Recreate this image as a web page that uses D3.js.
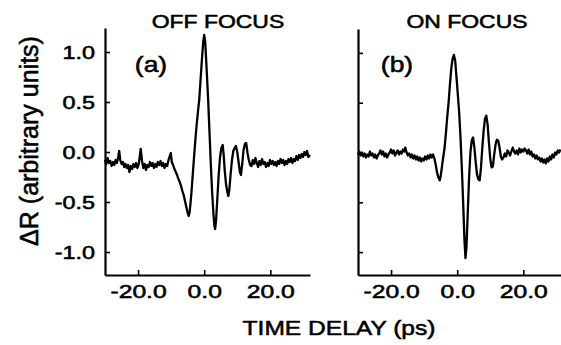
<!DOCTYPE html>
<html>
<head>
<meta charset="utf-8">
<script src="https://cdn.jsdelivr.net/npm/d3@7"></script>
<style>
  html, body { margin: 0; padding: 0; background: #fff; }
  svg { display: block; }
  text { font-family: "Liberation Sans", Arial, Helvetica, sans-serif; fill: #000; stroke: #000; stroke-width: 0.55px; }
</style>
</head>
<body>
<svg id="chart" width="561" height="345"></svg>
<script>
// time delay (ps), delta R (arbitrary units)
const offFocus = [
  [-30.0, -0.08], [-29.6, -0.12], [-29.2, -0.06], [-28.8, -0.11], [-28.4, -0.09],
  [-28.0, -0.14], [-27.6, -0.10], [-27.2, -0.13], [-26.8, -0.08], [-26.4, -0.11],
  [-26.0, -0.05], [-25.7, 0.01], [-25.4, -0.08], [-25.0, -0.12], [-24.6, -0.10],
  [-24.2, -0.15], [-23.8, -0.12], [-23.4, -0.16], [-23.0, -0.13], [-22.6, -0.20],
  [-22.2, -0.14], [-21.8, -0.17], [-21.4, -0.12], [-21.0, -0.15], [-20.6, -0.11],
  [-20.2, -0.16], [-19.8, -0.12], [-19.5, -0.05], [-19.2, 0.03], [-18.8, -0.09],
  [-18.4, -0.16], [-18.0, -0.12], [-17.6, -0.18], [-17.2, -0.13], [-16.8, -0.15],
  [-16.4, -0.10], [-16.0, -0.14], [-15.6, -0.11], [-15.2, -0.16], [-14.8, -0.12],
  [-14.4, -0.15], [-14.0, -0.10], [-13.6, -0.13], [-13.2, -0.09], [-12.8, -0.14],
  [-12.4, -0.11], [-12.0, -0.16], [-11.6, -0.12], [-11.2, -0.14], [-10.8, -0.08],
  [-10.4, -0.04], [-10.1, -0.01], [-9.8, -0.10], [-9.4, -0.13], [-9.0, -0.17],
  [-8.6, -0.20], [-8.2, -0.23], [-7.8, -0.27], [-7.4, -0.30], [-7.0, -0.34],
  [-6.6, -0.39], [-6.2, -0.43], [-5.8, -0.49], [-5.4, -0.55], [-5.0, -0.61],
  [-4.7, -0.64], [-4.4, -0.60], [-4.1, -0.50], [-3.8, -0.38], [-3.4, -0.20],
  [-3.0, -0.02], [-2.6, 0.15], [-2.2, 0.30], [-1.8, 0.43], [-1.5, 0.52],
  [-1.1, 0.72], [-0.7, 0.92], [-0.3, 1.10], [0.0, 1.17], [0.3, 1.10],
  [0.6, 0.92], [0.9, 0.72], [1.2, 0.52], [1.6, 0.20], [2.0, -0.12],
  [2.4, -0.40], [2.8, -0.62], [3.1, -0.74], [3.3, -0.77], [3.6, -0.68],
  [4.0, -0.45], [4.4, -0.22], [4.8, -0.05], [5.2, 0.04], [5.6, 0.07],
  [5.9, -0.03], [6.2, -0.18], [6.6, -0.32], [7.0, -0.40], [7.3, -0.44],
  [7.6, -0.38], [8.0, -0.22], [8.4, -0.08], [8.8, 0.01], [9.2, 0.04],
  [9.6, 0.06], [10.0, 0.00], [10.4, -0.10], [10.8, -0.20], [11.1, -0.23],
  [11.5, -0.12], [11.9, 0.02], [12.3, 0.08], [12.7, 0.09], [13.1, -0.01],
  [13.5, -0.08], [13.9, -0.13], [14.3, -0.14], [14.7, -0.08], [15.1, -0.12],
  [15.5, -0.06], [15.9, -0.11], [16.3, -0.15], [16.7, -0.09], [17.1, -0.13],
  [17.5, -0.07], [17.9, -0.12], [18.3, -0.10], [18.7, -0.15], [19.1, -0.11],
  [19.5, -0.14], [19.9, -0.08], [20.3, -0.12], [20.7, -0.09], [21.1, -0.13],
  [21.5, -0.10], [21.9, -0.14], [22.3, -0.09], [22.7, -0.12], [23.1, -0.07],
  [23.5, -0.11], [23.9, -0.08], [24.3, -0.13], [24.7, -0.09], [25.1, -0.12],
  [25.5, -0.07], [25.9, -0.10], [26.3, -0.06], [26.7, -0.11], [27.1, -0.07],
  [27.5, -0.09], [27.9, -0.04], [28.3, -0.08], [28.7, -0.03], [29.1, -0.06],
  [29.5, -0.02], [29.9, -0.05], [30.3, 0.00], [30.7, -0.03], [31.1, 0.01],
  [31.5, -0.05], [32.0, -0.03]
];

const onFocus = [
  [-30.0, -0.02], [-29.6, 0.01], [-29.2, -0.03], [-28.8, 0.00], [-28.4, -0.04],
  [-28.0, -0.01], [-27.6, -0.05], [-27.2, -0.02], [-26.8, -0.04], [-26.4, 0.01],
  [-26.0, -0.03], [-25.6, -0.01], [-25.2, -0.05], [-24.8, -0.02], [-24.4, -0.06],
  [-24.0, -0.03], [-23.6, -0.01], [-23.2, 0.02], [-22.8, -0.02], [-22.4, 0.01],
  [-22.0, -0.04], [-21.6, -0.01], [-21.2, -0.05], [-20.8, -0.02], [-20.4, 0.00],
  [-20.0, 0.03], [-19.6, -0.01], [-19.2, 0.02], [-18.8, -0.03], [-18.4, 0.00],
  [-18.0, 0.02], [-17.6, -0.02], [-17.2, 0.01], [-16.8, -0.01], [-16.4, 0.03],
  [-16.0, 0.01], [-15.7, 0.05], [-15.3, 0.00], [-14.9, -0.03], [-14.5, -0.01],
  [-14.1, -0.05], [-13.7, -0.02], [-13.3, -0.06], [-12.9, -0.03], [-12.5, -0.07],
  [-12.1, -0.04], [-11.7, -0.08], [-11.3, -0.05], [-10.9, -0.09], [-10.5, -0.06],
  [-10.1, -0.08], [-9.7, -0.04], [-9.3, -0.07], [-8.9, -0.03], [-8.5, -0.06],
  [-8.1, -0.02], [-7.7, -0.05], [-7.3, -0.02], [-6.9, -0.06], [-6.5, -0.12],
  [-6.1, -0.20], [-5.7, -0.25], [-5.3, -0.28], [-5.0, -0.24], [-4.6, -0.14],
  [-4.2, -0.04], [-3.8, 0.05], [-3.4, 0.20], [-3.0, 0.36], [-2.6, 0.50],
  [-2.2, 0.68], [-1.8, 0.84], [-1.4, 0.94], [-1.0, 0.98], [-0.6, 0.92],
  [-0.2, 0.75], [0.2, 0.58], [0.6, 0.40], [1.0, 0.15], [1.4, -0.15],
  [1.8, -0.50], [2.2, -0.88], [2.5, -1.06], [2.8, -0.95], [3.2, -0.60],
  [3.6, -0.25], [4.0, 0.00], [4.4, 0.12], [4.8, 0.15], [5.2, 0.05],
  [5.6, -0.10], [6.0, -0.22], [6.4, -0.27], [6.8, -0.28], [7.2, -0.15],
  [7.6, 0.05], [8.0, 0.22], [8.4, 0.34], [8.8, 0.37], [9.2, 0.28],
  [9.6, 0.10], [10.0, -0.06], [10.4, -0.15], [10.8, -0.14], [11.2, -0.02],
  [11.6, 0.08], [12.0, 0.13], [12.4, 0.12], [12.8, 0.05], [13.2, -0.04],
  [13.6, -0.07], [14.0, -0.05], [14.4, -0.01], [14.8, -0.04], [15.2, 0.02],
  [15.6, 0.00], [16.0, -0.03], [16.4, 0.01], [16.8, 0.05], [17.2, 0.01],
  [17.6, -0.01], [18.0, 0.02], [18.4, -0.02], [18.8, 0.04], [19.2, 0.00],
  [19.6, 0.03], [20.0, 0.01], [20.4, 0.04], [20.8, 0.02], [21.2, -0.01],
  [21.6, 0.03], [22.0, -0.02], [22.4, 0.01], [22.8, -0.04], [23.2, -0.02],
  [23.6, -0.06], [24.0, -0.03], [24.4, -0.07], [24.8, -0.05], [25.2, -0.09],
  [25.6, -0.06], [26.0, -0.10], [26.4, -0.07], [26.8, -0.11], [27.2, -0.06],
  [27.6, -0.09], [28.0, -0.04], [28.4, -0.07], [28.8, -0.02], [29.2, -0.05],
  [29.6, 0.00], [30.0, -0.02], [30.4, 0.02], [30.8, 0.00], [31.2, 0.03]
];

const panelTitles = ['OFF FOCUS', 'ON FOCUS'];
const panelTags = ['(a)', '(b)'];
const xTicks = [-20, 0, 20];
const yTicks = [-1.0, -0.5, 0.0, 0.5, 1.0];
const xLabel = 'TIME DELAY (ps)';
const yLabel = 'ΔR (arbitrary units)';

const svg = d3.select('#chart');
const fmt = (d) => d.toFixed(1);

const panels = [
  { data: offFocus, left: 105, right: 310, top: 28, bottom: 275, labels: true, titleX: 218, tagX: 151 },
  { data: onFocus, left: 358, right: 563, top: 29, bottom: 275, labels: false, titleX: 467, tagX: 397 }
];

panels.forEach((p, i) => {
  const x = d3.scaleLinear().domain([-30, 32]).range([p.left, p.right]);
  const y = d3.scaleLinear().domain([-1.23, 1.24]).range([p.bottom, p.top]);

  const g = svg.append('g');

  // axes: ticks point inward
  const yAxis = g.append('g')
    .attr('transform', `translate(${p.left},0)`)
    .call(d3.axisLeft(y).tickValues(yTicks).tickSize(-5).tickSizeOuter(0).tickFormat(fmt));
  const xAxis = g.append('g')
    .attr('transform', `translate(0,${p.bottom})`)
    .call(d3.axisBottom(x).tickValues(xTicks).tickSize(-5).tickSizeOuter(0).tickFormat(fmt));

  [yAxis, xAxis].forEach((a) => {
    a.select('.domain').attr('stroke', '#000').attr('stroke-width', 2.2);
    a.selectAll('.tick line').attr('stroke', '#000').attr('stroke-width', 1.6);
  });

  yAxis.selectAll('.tick text')
    .attr('x', 0)
    .attr('dy', '0.36em')
    .attr('transform', 'translate(-10,0) scale(1.3,1)')
    .style('font-size', '18px')
    .style('display', p.labels ? null : 'none');

  xAxis.selectAll('.tick text')
    .attr('y', 0)
    .attr('dy', 0)
    .attr('transform', 'translate(0,23) scale(1.3,1)')
    .style('font-size', '19px');

  g.append('path')
    .datum(p.data)
    .attr('fill', 'none')
    .attr('stroke', '#000')
    .attr('stroke-width', 2.3)
    .attr('stroke-linejoin', 'round')
    .attr('d', d3.line().x((d) => x(d[0])).y((d) => y(d[1])));

  g.append('text')
    .attr('transform', `translate(${p.titleX},28) scale(1.24,1)`)
    .attr('text-anchor', 'middle')
    .style('font-size', '18.5px')
    .text(panelTitles[i]);

  g.append('text')
    .attr('transform', `translate(${p.tagX},72) scale(1.2,1)`)
    .attr('text-anchor', 'middle')
    .style('font-size', '22px')
    .text(panelTags[i]);
});

svg.append('text')
  .attr('transform', 'translate(339,335) scale(1.17,1)')
  .attr('text-anchor', 'middle')
  .style('font-size', '21px')
  .text(xLabel);

svg.append('text')
  .attr('transform', 'translate(38,141) rotate(-90)')
  .attr('text-anchor', 'middle')
  .style('font-size', '25px')
  .text(yLabel);
</script>
</body>
</html>
